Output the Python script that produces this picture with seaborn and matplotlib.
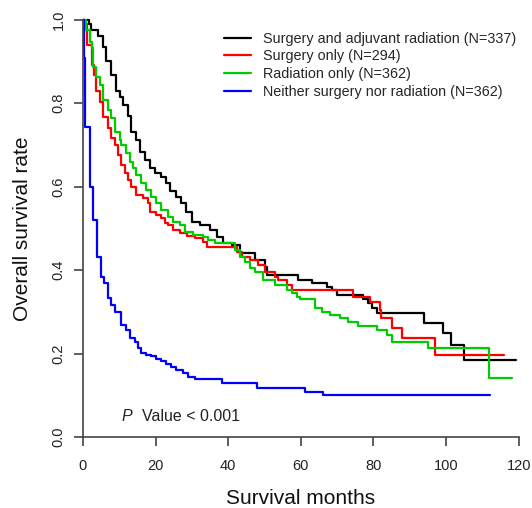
import numpy as np
import pandas as pd
import matplotlib
matplotlib.use("Agg")
import matplotlib.pyplot as plt
import seaborn as sns

groups = [
    "Surgery and adjuvant radiation (N=337)",
    "Surgery only (N=294)",
    "Radiation only (N=362)",
    "Neither surgery nor radiation (N=362)",
]
colors = ["#000000", "#ff0000", "#00cc00", "#0000ff"]

# Kaplan-Meier step curves (months, survival)
t_both = [0, 1.7, 2.2, 4.1, 5.5, 6.3, 7.7, 9.1, 10.2, 11.0, 12.4, 13.2, 14.6, 15.7, 17.1, 18.5,
          19.8, 21.5, 22.9, 24.0, 25.6, 27.0, 28.4, 30.0, 32.2, 35.0, 36.9, 38.6, 41.0, 43.3,
          47.4, 50.1, 50.7, 59.2, 63.1, 67.2, 68.6, 70.0, 77.1, 78.5, 79.6, 81.0, 93.9, 99.2,
          101.4, 105.0, 119.3]
s_both = [1.0, 0.99, 0.976, 0.96, 0.935, 0.90, 0.868, 0.83, 0.815, 0.796, 0.77, 0.73, 0.712, 0.683,
          0.664, 0.645, 0.633, 0.623, 0.609, 0.59, 0.575, 0.56, 0.54, 0.516, 0.508, 0.496, 0.48,
          0.465, 0.46, 0.44, 0.425, 0.408, 0.389, 0.376, 0.37, 0.36, 0.352, 0.34, 0.331, 0.321,
          0.309, 0.297, 0.273, 0.249, 0.22, 0.185, 0.185]

t_surg = [0, 0.3, 1.1, 2.5, 3.0, 3.6, 4.7, 5.5, 6.9, 7.7, 8.8, 9.6, 10.5, 11.6, 12.4, 13.2, 14.6,
          16.5, 17.9, 18.5, 20.1, 21.5, 22.6, 23.4, 24.8, 26.7, 28.7, 30.9, 33.1, 34.2, 42.4, 43.8,
          46.0, 48.2, 50.1, 52.9, 53.7, 56.2, 57.6, 74.4, 79.1, 81.8, 82.1, 85.1, 87.9, 97.0, 116.0]
s_surg = [1.0, 0.99, 0.94, 0.892, 0.868, 0.83, 0.803, 0.767, 0.74, 0.717, 0.70, 0.676, 0.652, 0.633,
          0.616, 0.60, 0.58, 0.573, 0.561, 0.54, 0.532, 0.525, 0.513, 0.508, 0.496, 0.489, 0.482,
          0.477, 0.468, 0.456, 0.444, 0.432, 0.424, 0.412, 0.396, 0.384, 0.376, 0.364, 0.352,
          0.336, 0.324, 0.305, 0.285, 0.261, 0.237, 0.197, 0.197]

t_rad = [0, 0.8, 1.9, 2.5, 2.8, 3.6, 4.7, 5.5, 6.9, 7.7, 8.8, 10.2, 10.5, 11.8, 12.9, 13.8, 14.6,
         16.0, 17.4, 18.7, 20.1, 21.5, 23.4, 24.8, 26.7, 28.1, 30.3, 33.1, 34.4, 36.4, 41.9, 43.3,
         44.6, 46.0, 47.4, 49.6, 52.9, 56.2, 57.6, 59.0, 59.8, 63.9, 65.8, 68.0, 70.8, 73.0, 75.8,
         81.0, 83.7, 85.1, 95.0, 111.8, 118.2]
s_rad = [1.0, 0.976, 0.947, 0.933, 0.887, 0.863, 0.844, 0.808, 0.784, 0.765, 0.731, 0.712, 0.70,
         0.681, 0.659, 0.645, 0.628, 0.609, 0.592, 0.576, 0.561, 0.544, 0.528, 0.516, 0.508, 0.492,
         0.484, 0.48, 0.472, 0.465, 0.448, 0.432, 0.42, 0.405, 0.396, 0.376, 0.364, 0.352, 0.345,
         0.336, 0.331, 0.309, 0.30, 0.292, 0.285, 0.276, 0.266, 0.257, 0.245, 0.228, 0.213, 0.141,
         0.141]

t_none = [0, 0.2, 0.6, 1.8, 2.8, 3.9, 4.9, 5.8, 6.9, 7.7, 8.8, 10.5, 11.8, 12.9, 14.3, 15.2, 16.0,
          17.4, 18.7, 20.1, 21.5, 22.9, 24.2, 25.6, 27.5, 28.9, 30.9, 38.3, 47.9, 61.2, 66.1, 112.0]
s_none = [1.0, 0.909, 0.743, 0.60, 0.52, 0.432, 0.384, 0.369, 0.333, 0.317, 0.30, 0.269, 0.257,
          0.237, 0.228, 0.213, 0.201, 0.197, 0.193, 0.188, 0.182, 0.176, 0.168, 0.161, 0.153,
          0.144, 0.138, 0.129, 0.117, 0.108, 0.10, 0.10]

x_ticks = [0, 20, 40, 60, 80, 100, 120]
y_ticks = [0.0, 0.2, 0.4, 0.6, 0.8, 1.0]

frames = []
for g, t, s in zip(groups, [t_both, t_surg, t_rad, t_none], [s_both, s_surg, s_rad, s_none]):
    frames.append(pd.DataFrame({"group": g, "time": t, "surv": s}))
df = pd.concat(frames, ignore_index=True)

sns.set_theme(style="ticks")
plt.rcParams["font.family"] = ["Liberation Sans", "DejaVu Sans"]

fig = plt.figure(figsize=(5.32, 5.08), dpi=100)
ax = fig.add_axes([0.156, 0.1398, 0.819, 0.8214])

sns.lineplot(data=df, x="time", y="surv", hue="group", hue_order=groups,
             palette=colors, drawstyle="steps-post", estimator=None, sort=False,
             linewidth=1.6, ax=ax, legend=True)
for ln in ax.lines:
    ln.set_clip_on(False)

ax.set_xlim(0, 120)
ax.set_ylim(0, 1)
ax.set_xticks(x_ticks)
ax.set_yticks(y_ticks)
ax.set_xticklabels([str(v) for v in x_ticks])
ax.set_yticklabels([f"{v:.1f}" for v in y_ticks], rotation=90, va="center")

for side in ["top", "right"]:
    ax.spines[side].set_visible(False)
for side in ["left", "bottom"]:
    ax.spines[side].set_color("#444444")
    ax.spines[side].set_linewidth(1.2)
ax.tick_params(axis="both", which="major", direction="out", length=6.5, width=1.2,
               color="#444444", labelsize=10.5, labelcolor="#222222",
               bottom=True, left=True)
ax.tick_params(axis="x", pad=9)
ax.tick_params(axis="y", pad=6)

ax.set_xlabel("Survival months", fontsize=15, color="#111111", labelpad=12)
ax.set_ylabel("Overall survival rate", fontsize=15, color="#111111", labelpad=14)

ax.text(10.7, 0.05, "P", fontsize=11.5, style="italic", va="center", ha="left", color="#222222")
ax.text(16.3, 0.05, "Value < 0.001", fontsize=11.5, va="center", ha="left", color="#222222")

leg = ax.legend(loc="upper left", bbox_to_anchor=(0.31, 0.985), frameon=False,
                fontsize=10.4, handlelength=1.87, handletextpad=0.83, labelspacing=0.25,
                borderaxespad=0)
for h in leg.get_lines():
    h.set_linewidth(1.6)

fig.savefig("out.png", dpi=100)
